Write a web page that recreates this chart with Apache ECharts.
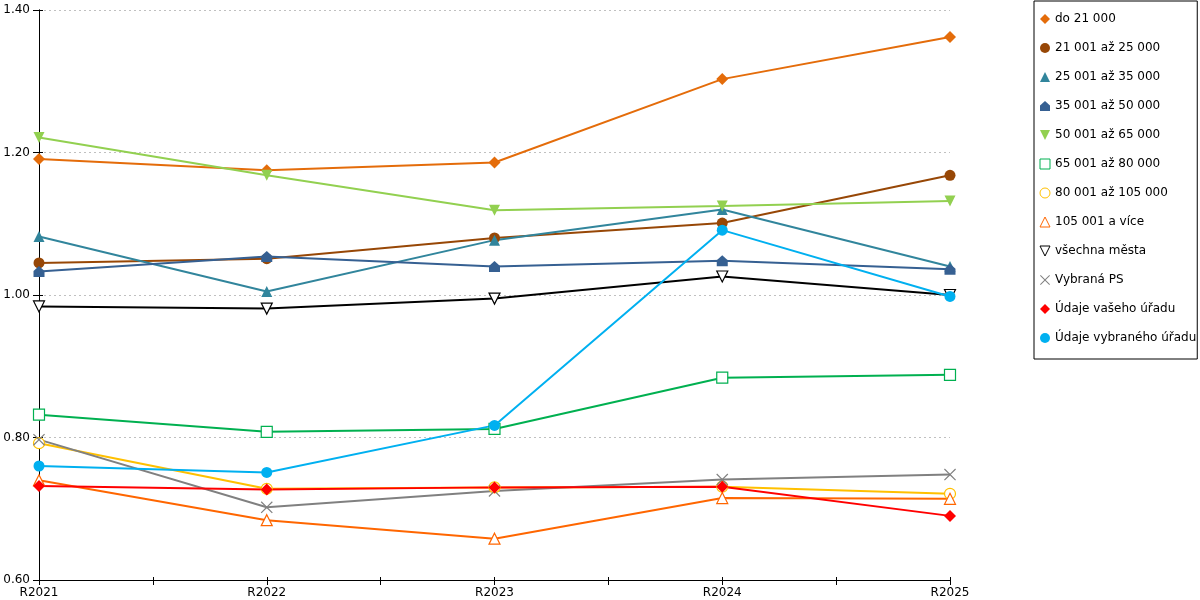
<!DOCTYPE html>
<html>
<head>
<meta charset="utf-8">
<script src="https://cdn.jsdelivr.net/npm/echarts@6/dist/echarts.min.js"></script>
<style>
  html, body { margin: 0; padding: 0; background: #fff; }
  #chart { width: 1200px; height: 600px; }
</style>
</head>
<body>
<div id="chart"></div>
<script>
// kategorie (roky)
const categories = ['R2021', 'R2022', 'R2023', 'R2024', 'R2025'];
const yTicks = [0.6, 0.8, 1.0, 1.2, 1.4];

// hodnoty jednotlivých řad
const do21000 = [1.191, 1.175, 1.186, 1.303, 1.362];
const s21001 = [1.045, 1.051, 1.080, 1.101, 1.168];
const s25001 = [1.082, 1.005, 1.077, 1.120, 1.040];
const s35001 = [1.033, 1.054, 1.040, 1.048, 1.036];
const s50001 = [1.221, 1.168, 1.119, 1.125, 1.132];
const s65001 = [0.832, 0.808, 0.812, 0.884, 0.888];
const s80001 = [0.792, 0.728, 0.730, 0.731, 0.721];
const s105001 = [0.740, 0.684, 0.658, 0.715, 0.714];
const vsechnaMesta = [0.984, 0.981, 0.995, 1.026, 1.000];
const vybranaPS = [0.797, 0.702, 0.725, 0.741, 0.748];
const vasUrad = [0.732, 0.727, 0.730, 0.731, 0.690];
const vybranyUrad = [0.760, 0.751, 0.817, 1.091, 0.998];

// tvary značek
const HOUSE = 'path://M5,0 L10,4.5 L10,10 L0,10 L0,4.5 Z';
const CROSS = 'path://M0,0.7 L0.7,0 L5,4.3 L9.3,0 L10,0.7 L5.7,5 L10,9.3 L9.3,10 L5,5.7 L0.7,10 L0,9.3 L4.3,5 Z';
const SQUARE = 'path://M0,0 L10,0 L10,10 L0,10 Z';
const TRI_UP = 'path://M5,0 L10,10 L0,10 Z';
const TRI_DOWN = 'path://M0,0 L10,0 L5,10 Z';

// definice řad: název, data, barva, symbol, velikost, prázdná
const seriesDefs = [
  ['do 21 000', do21000, '#E46C0A', 'diamond', 12, false],
  ['21 001 až 25 000', s21001, '#974706', 'circle', 11, false],
  ['25 001 až 35 000', s25001, '#31859C', TRI_UP, 11, false],
  ['35 001 až 50 000', s35001, '#366092', HOUSE, 11, false],
  ['50 001 až 65 000', s50001, '#92D050', TRI_DOWN, 11, false],
  ['65 001 až 80 000', s65001, '#00B050', SQUARE, 11, true],
  ['80 001 až 105 000', s80001, '#FFC000', 'circle', 11, true],
  ['105 001 a více', s105001, '#FF6600', TRI_UP, 11, true],
  ['všechna města', vsechnaMesta, '#000000', TRI_DOWN, 11, true],
  ['Vybraná PS', vybranaPS, '#808080', CROSS, 12, false],
  ['Údaje vašeho úřadu', vasUrad, '#FF0000', 'diamond', 12, false],
  ['Údaje vybraného úřadu', vybranyUrad, '#00B0F0', 'circle', 11, false]
];

const chart = echarts.init(document.getElementById('chart'));

const yBase = {
  type: 'value',
  min: yTicks[0],
  max: yTicks[yTicks.length - 1],
  interval: 0.2
};

chart.setOption({
  animation: false,
  textStyle: { fontFamily: 'DejaVu Sans' },
  grid: { left: 39, right: 250, top: 10, bottom: 20, containLabel: false },
  legend: {
    orient: 'vertical',
    left: 1034,
    top: 1,
    padding: [12, 1, 15, 5],
    itemWidth: 10,
    itemHeight: 12.5,
    itemGap: 17,
    itemStyle: { borderWidth: 1 },
    lineStyle: { opacity: 0 },
    backgroundColor: '#fff',
    borderColor: '#000',
    borderWidth: 1,
    borderRadius: 0,
    textStyle: { fontSize: 12, color: '#000', fontFamily: 'DejaVu Sans' },
    data: seriesDefs.map(d => d[0])
  },
  xAxis: [{
    type: 'value',
    min: 0,
    max: categories.length - 1,
    interval: 0.5,
    axisLine: { show: true, lineStyle: { color: '#000', width: 1 } },
    axisTick: { show: true, length: 5, lineStyle: { color: '#000' } },
    axisLabel: {
      color: '#000',
      fontSize: 12,
      margin: 7,
      formatter: v => Number.isInteger(v) ? categories[v] : ''
    },
    splitLine: { show: false }
  }, {
    // vnitřní část značek osy x
    type: 'value',
    position: 'bottom',
    min: 0,
    max: categories.length - 1,
    interval: 0.5,
    axisLine: { show: false },
    axisTick: { show: true, inside: true, length: 3, lineStyle: { color: '#000' } },
    axisLabel: { show: false },
    splitLine: { show: false }
  }],
  yAxis: [Object.assign({}, yBase, {
    axisLine: { show: true, lineStyle: { color: '#000', width: 1 } },
    axisTick: { show: true, length: 6, lineStyle: { color: '#000' } },
    axisLabel: {
      color: '#000',
      fontSize: 12,
      margin: 9,
      formatter: v => v.toFixed(2)
    },
    splitLine: { show: true, lineStyle: { color: '#c0c0c0', type: [2, 3] } }
  }), Object.assign({}, yBase, {
    position: 'right',
    axisLine: { show: true, lineStyle: { color: '#000', width: 1 } },
    axisTick: { show: false },
    axisLabel: { show: false },
    splitLine: { show: false }
  }), Object.assign({}, yBase, {
    // vnitřní část značek osy y
    position: 'left',
    axisLine: { show: false },
    axisTick: { show: true, inside: true, length: 4, lineStyle: { color: '#000' } },
    axisLabel: { show: false },
    splitLine: { show: false }
  })],
  series: seriesDefs.map(([name, vals, color, symbol, size, hollow]) => ({
    name: name,
    type: 'line',
    data: vals.map((v, i) => [i, v]),
    symbol: symbol,
    symbolSize: size,
    showAllSymbol: true,
    lineStyle: { color: color, width: 2 },
    itemStyle: hollow
      ? { color: '#fff', borderColor: color, borderWidth: 1.2 }
      : { color: color, borderWidth: 0 },
    emphasis: { disabled: true }
  }))
});
</script>
</body>
</html>
